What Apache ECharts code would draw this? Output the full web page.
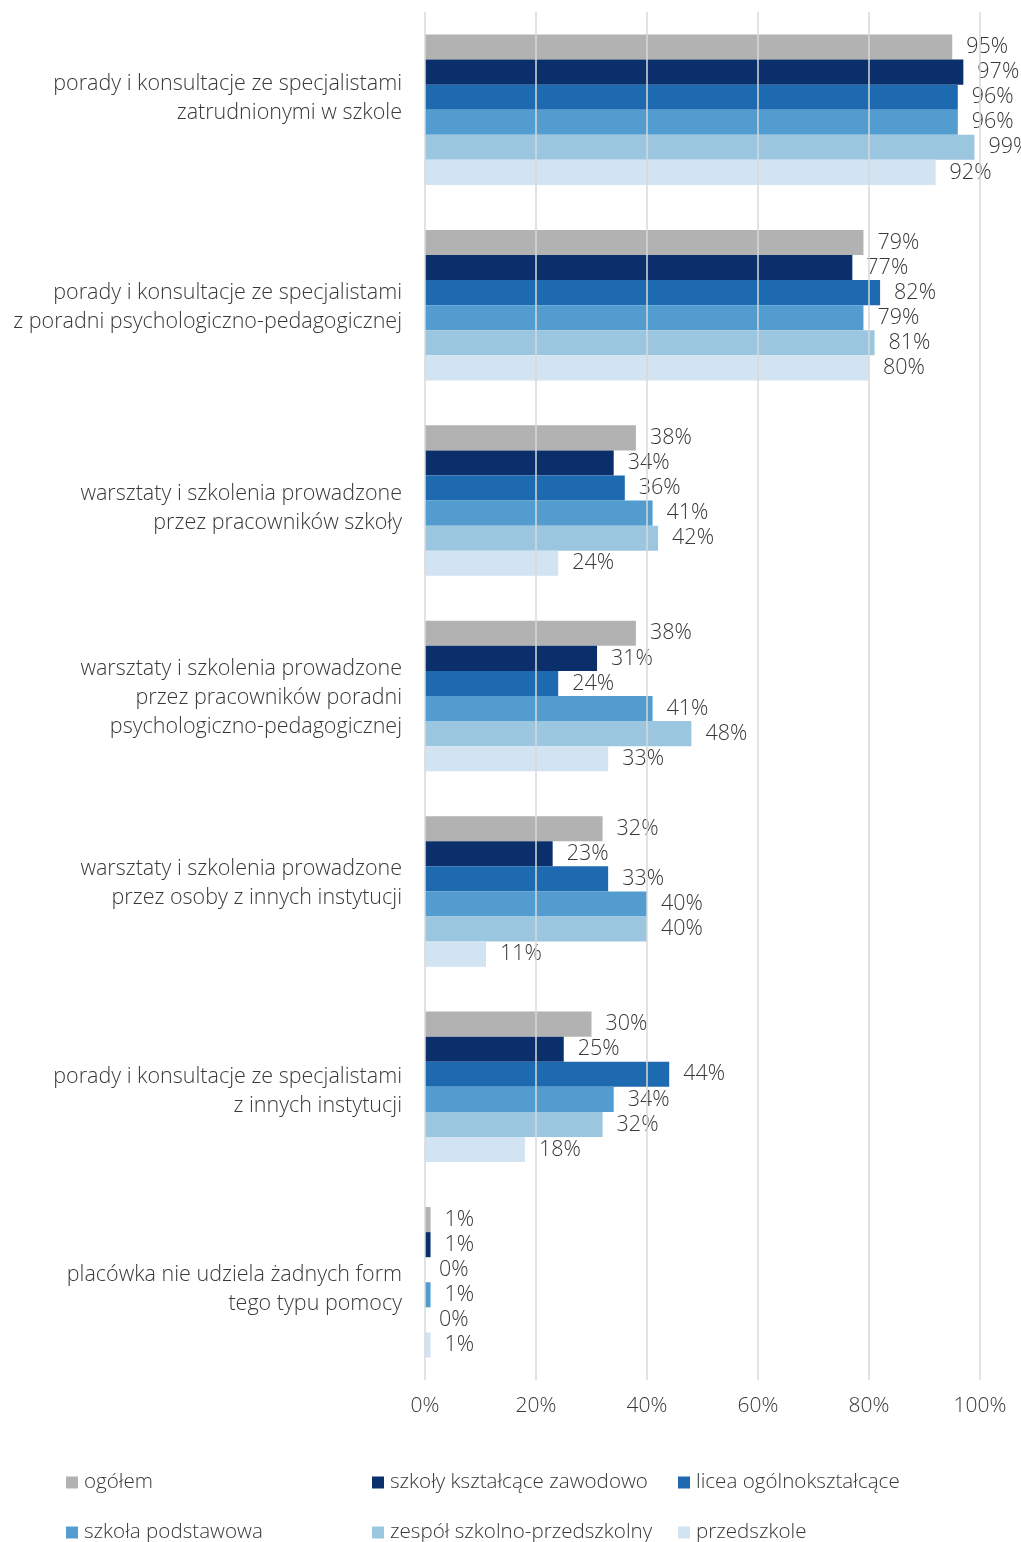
<!DOCTYPE html>
<html><head><meta charset="utf-8">
<script src="https://cdn.jsdelivr.net/npm/echarts@6/dist/echarts.min.js"></script>
<style>html,body{margin:0;padding:0;background:#fff}#c{width:1021px;height:1542px}</style>
</head><body><div id="c"></div>
<script>
const categories = [
  "porady i konsultacje ze specjalistami\nzatrudnionymi w szkole",
  "porady i konsultacje ze specjalistami\nz poradni psychologiczno-pedagogicznej",
  "warsztaty i szkolenia prowadzone\nprzez pracowników szkoły",
  "warsztaty i szkolenia prowadzone\nprzez pracowników poradni\npsychologiczno-pedagogicznej",
  "warsztaty i szkolenia prowadzone\nprzez osoby z innych instytucji",
  "porady i konsultacje ze specjalistami\nz innych instytucji",
  "placówka nie udziela żadnych form\ntego typu pomocy"
];
const seriesNames = ["ogółem","szkoły kształcące zawodowo","licea ogólnokształcące","szkoła podstawowa","zespół szkolno-przedszkolny","przedszkole"];
const ogolem     = [95, 79, 38, 38, 32, 30, 1];
const zawodowe   = [97, 77, 34, 31, 23, 25, 1];
const licea      = [96, 82, 36, 24, 33, 44, 0];
const podstawowa = [96, 79, 41, 41, 40, 34, 1];
const zespol     = [99, 81, 42, 48, 40, 32, 0];
const przedszkole= [92, 80, 24, 33, 11, 18, 1];
const xTicks = [0, 20, 40, 60, 80, 100];

const colors = ["#b2b2b2","#0a2f6b","#1e6ab0","#529ccf","#9bc6df","#d2e3f2"];
const seriesData = [ogolem, zawodowe, licea, podstawowa, zespol, przedszkole];
const FONT = "'Open Sans', 'DejaVu Sans', sans-serif";
const TXT = "#383838";
// vertical nudge of each category label (px, negative = up)
const labelShift = [-11, 2, 8, 2, -8, 5, 7];

const chart = echarts.init(document.getElementById('c'));
const legendPos = [[66,1472],[372,1472],[678,1472],[66,1522],[372,1522],[678,1522]];
const barSeries = seriesNames.map((n, i) => ({
  name: n, type: 'bar', data: seriesData[i],
  barGap: '0%', barCategoryGap: '23%',
  itemStyle: {color: colors[i]},
  label: {show: true, position: 'right', distance: 14, formatter: p => p.value + '%',
    color: TXT, fontSize: 21.5, fontFamily: FONT, fontWeight: 300}
}));
const catLabelSeries = {
  type: 'scatter', silent: true, symbolSize: 0, tooltip: {show: false},
  itemStyle: {opacity: 1},
  data: categories.map((c, i) => ({
    value: [0, i],
    label: {offset: [0, labelShift[i]]}
  })),
  label: {show: true, position: 'left', distance: 23, align: 'right', verticalAlign: 'middle',
    formatter: p => categories[p.dataIndex],
    color: TXT, opacity: 1, fontSize: 21.5, fontFamily: FONT, fontWeight: 300, lineHeight: 29}
};
chart.setOption({
  animation: false,
  color: colors,
  grid: {left: 425, right: 41, top: 12, bottom: 162, containLabel: false},
  xAxis: {
    type: 'value', min: xTicks[0], max: xTicks[xTicks.length-1], interval: 20, z: 5,
    axisLine: {show: false}, axisTick: {show: false},
    splitLine: {show: true, lineStyle: {color: '#d9d9d9', width: 1.5}},
    axisLabel: {formatter: v => v + '%', color: TXT, fontSize: 21, fontFamily: FONT, fontWeight: 300, margin: 16}
  },
  yAxis: {
    type: 'category', inverse: true, data: categories,
    axisLine: {show: false}, axisTick: {show: false},
    axisLabel: {show: false}
  },
  legend: seriesNames.map((n, i) => ({
    data: [n], left: legendPos[i][0], top: legendPos[i][1], orient: 'horizontal',
    icon: 'rect', itemWidth: 12, itemHeight: 12, itemGap: 5, padding: 0,
    textStyle: {color: TXT, fontSize: 20.6, fontFamily: FONT, fontWeight: 300, padding: [0,0,0,1]}
  })),
  series: barSeries.concat([catLabelSeries])
});
</script></body></html>
